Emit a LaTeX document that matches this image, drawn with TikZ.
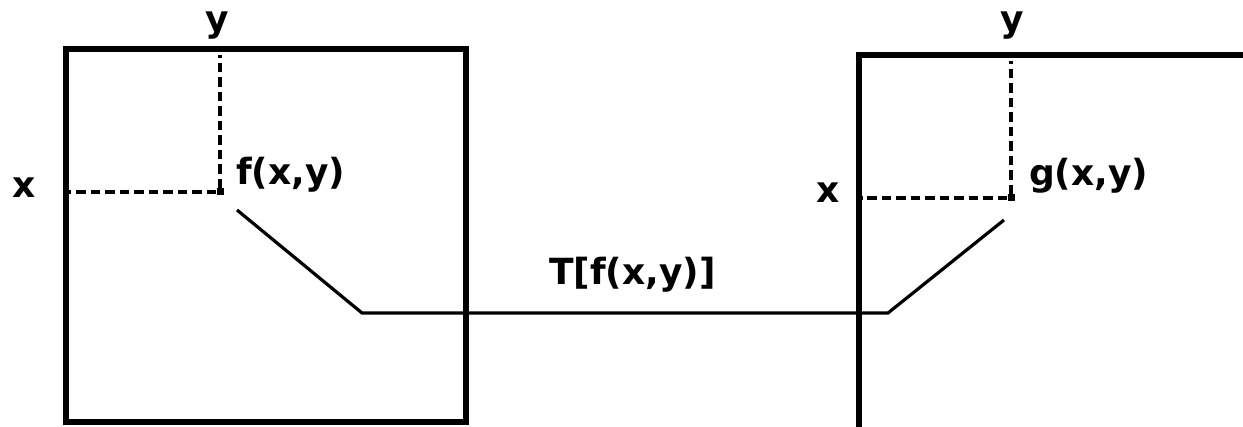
\documentclass[tikz,border=0pt]{standalone}
\usepackage{fontspec}
\setmainfont{DejaVu Sans}
\usetikzlibrary{positioning,calc}

\begin{document}
\begin{tikzpicture}[
    x=1pt, y=-1pt,
    imgbox/.style={
      draw, line width=6pt, minimum width=400pt,
      minimum height=373pt, inner sep=0pt, outer sep=0pt
    },
    lbl/.style={font=\fontsize{36}{40}\selectfont\bfseries, inner sep=0pt},
    guide/.style={line width=3.6pt, dash pattern=on 9.5pt off 5pt},
    pix/.style={fill, inner sep=0pt, minimum size=7pt},
    link/.style={line width=3.2pt, line join=miter},
  ]
  \useasboundingbox (0,0) rectangle (1243,427);
  \clip (0,0) rectangle (1243,427);

  % --- INPUT IMAGE f ---
  \node[imgbox] (fimg) at (265.75,235.25) {};
  \node[pix] (fpt) at (220,192) {};
  \node[lbl, anchor=base] (fy) at (217,32) {y};
  \node[lbl, anchor=base] (fx) at (24.5,198) {x};
  \node[lbl, anchor=base west] (flbl) at (236,185) {f(x,y)};
  \draw[guide, shorten >=6pt] (fpt) -- (fpt |- fimg.north);
  \draw[guide, shorten >=3pt] (fpt) -- (fpt -| fimg.west);

  % --- OUTPUT IMAGE g ---
  \node[imgbox, minimum height=380pt] (gimg) at (1058.5,245) {};
  \node[pix] (gpt) at (1011,198) {};
  \node[lbl, anchor=base] (gy) at (1012,32) {y};
  \node[lbl, anchor=base] (gx) at (828.5,203) {x};
  \node[lbl, anchor=base west] (glbl) at (1029,186) {g(x,y)};
  \draw[guide, shorten >=6pt] (gpt) -- (gpt |- gimg.north);
  \draw[guide, shorten >=3pt] (gpt) -- (gpt -| gimg.west);

  % --- TRANSFORM T ---
  \coordinate (tin) at (237,210);
  \coordinate (tkneeA) at (362,313);
  \coordinate (tkneeB) at (888,313);
  \coordinate (tout) at (1004,220);
  \draw[link] (tin) -- (tkneeA) -- (tkneeB) -- (tout);
  \node[lbl, anchor=base] (tlbl) at (632.5,285) {T[f(x,y)]};

\end{tikzpicture}
\end{document}
